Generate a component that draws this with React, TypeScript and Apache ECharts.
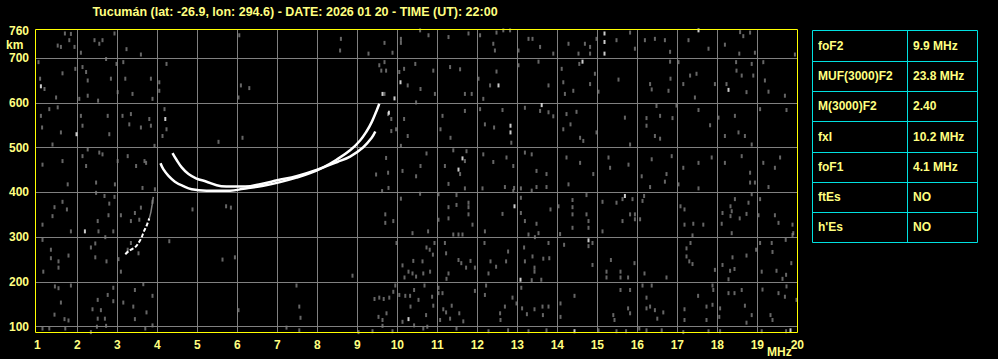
import React, { useEffect, useRef } from "react";
import * as echarts from "echarts";

const TITLE = "Tucumán (lat: -26.9, lon: 294.6) - DATE: 2026 01 20 - TIME (UT): 22:00";
const xTickLabels = [1, 2, 3, 4, 5, 6, 7, 8, 9, 10, 11, 12, 13, 14, 15, 16, 17, 18, 19, 20];
const xGridValues = [2, 3, 4, 5, 6, 7, 8, 9, 10, 11, 12, 13, 14, 15, 16, 17, 18, 19];
const yTickLabels = [100, 200, 300, 400, 500, 600, 700, 760];
const yGridValues = [100, 200, 300, 400, 500, 600, 700];

const tableLabels = ["foF2", "MUF(3000)F2", "M(3000)F2", "fxI", "foF1", "ftEs", "h'Es"];
const tableValues = ["9.9 MHz", "23.8 MHz", "2.40", "10.2 MHz", "4.1 MHz", "NO", "NO"];

// O-mode trace (MHz, km)
const traceO = [
  [4.08, 465], [4.15, 452], [4.28, 437], [4.44, 424], [4.65, 414], [4.86, 407], [5.23, 404],
  [5.82, 404], [6.15, 408], [6.65, 415], [7.07, 423], [7.48, 433], [7.82, 443], [8.15, 456],
  [8.48, 473], [8.82, 494], [9.07, 516], [9.23, 536], [9.36, 557], [9.48, 582], [9.55, 598],
];
// X-mode trace
const traceX = [
  [4.38, 488], [4.48, 473], [4.61, 456], [4.78, 441], [4.98, 431], [5.2, 425], [5.6, 414],
  [6.2, 413], [6.6, 419], [7.0, 427], [7.5, 437], [8.0, 451], [8.5, 468], [8.82, 480],
  [9.15, 501], [9.36, 522], [9.45, 536],
];
// F1 / lower trace
const traceF1 = [
  [3.2, 262], [3.3, 270], [3.44, 277], [3.53, 287], [3.61, 300], [3.67, 314], [3.73, 325], [3.8, 342],
];
const traceF1Faint = [[3.8, 342], [3.84, 356], [3.87, 372], [3.9, 390]];

const whiteDots = [
  [1.09, 637], [1.98, 530], [4.2, 564], [15.18, 755], [15.18, 736], [15.18, 710], [17.53, 762],
  [12.53, 639], [14.63, 692], [18.28, 629], [12.83, 549], [12.83, 534], [13.61, 595], [11.63, 476],
  [11.53, 451], [2.19, 313], [10.28, 117], [12.93, 369], [15.69, 392], [14.78, 293], [13.08, 205],
  [14.43, 90], [19.83, 92], [9.63, 620], [9.79, 578], [9.93, 610], [10.08, 646],
];

const grayDots = [
  [1.69, 755], [1.8, 740], [1.84, 754], [1.51, 728], [1.59, 725], [1.93, 725], [2.09, 712], [1.03, 691],
  [1.07, 654], [1.18, 631], [1.47, 612], [1.63, 666], [1.95, 676], [2.13, 680], [2.22, 669], [2.26, 650],
  [2.43, 740], [2.55, 732], [2.63, 740], [2.72, 698], [2.84, 654], [2.93, 755], [2.98, 687], [3.01, 624],
  [3.15, 691], [3.2, 654], [3.23, 720], [3.38, 620], [3.59, 708], [3.84, 654], [3.88, 609], [4.05, 646],
  [4.05, 627], [4.23, 687], [2.26, 616], [2.52, 605], [2.05, 609], [6.05, 751], [6.03, 612], [6.09, 639],
  [6.3, 633], [8.59, 743], [8.57, 717], [9.28, 710], [9.68, 734], [9.88, 712], [10.09, 743], [10.09, 734],
  [9.55, 684], [9.68, 691], [9.6, 672], [9.72, 672], [10.17, 676], [10.26, 639], [10.45, 687], [10.05, 669],
  [1.09, 571], [1.12, 545], [1.3, 586], [1.51, 590], [1.59, 534], [1.38, 507], [2.09, 571], [2.13, 549],
  [2.26, 496], [2.55, 489], [2.76, 571], [2.8, 530], [3.13, 571], [3.3, 552], [3.34, 575], [3.59, 545],
  [3.72, 466], [3.8, 564], [3.84, 549], [1.13, 462], [1.63, 470], [2.13, 481], [2.22, 459], [2.63, 485],
  [3.01, 470], [3.26, 481], [3.47, 459], [3.68, 470], [3.93, 504], [4.18, 586], [4.23, 541], [4.13, 526],
  [5.53, 513], [6.13, 522], [9.68, 620], [9.77, 575], [9.85, 564], [9.97, 541], [9.85, 537], [10.17, 564],
  [10.26, 526], [10.47, 601], [10.09, 504], [9.72, 477], [9.77, 444], [10.13, 448], [9.47, 440], [10.47, 436],
  [10.78, 751], [10.57, 762], [11.28, 747], [11.78, 755], [12.07, 751], [12.48, 757], [12.65, 762], [12.82, 762],
  [12.4, 732], [12.44, 717], [13.03, 717], [13.28, 743], [13.38, 743], [13.57, 725], [13.9, 710], [14.28, 732],
  [14.53, 710], [14.69, 732], [14.82, 725], [14.82, 710], [14.98, 743], [15.48, 740], [15.82, 757], [15.94, 721],
  [16.19, 740], [16.44, 743], [16.69, 740], [16.82, 714], [17.28, 740], [17.78, 721], [18.19, 730], [18.57, 758],
  [18.65, 749], [18.82, 757], [18.55, 710], [18.94, 712], [19.94, 708],
  [10.9, 672], [11.32, 680], [11.57, 675], [10.58, 631], [10.94, 620], [11.69, 620], [11.86, 620], [12.03, 654],
  [12.48, 670], [12.32, 639], [12.15, 609], [13.03, 684], [13.53, 692], [13.78, 639], [14.11, 676], [14.15, 646],
  [14.19, 620], [14.55, 687], [14.4, 627], [14.82, 642], [14.94, 665], [15.03, 625], [15.53, 652], [16.32, 642],
  [16.36, 630], [16.78, 627], [16.83, 654], [16.82, 692], [17.03, 691], [17.15, 642], [17.32, 661], [17.48, 665],
  [17.44, 612], [17.94, 642], [18.23, 642], [18.48, 672], [18.61, 661], [18.73, 624], [18.9, 661], [18.86, 687],
  [19.15, 691], [19.19, 650], [19.28, 625], [19.69, 616], [18.47, 691],
  [11.13, 571], [11.08, 541], [11.33, 522], [11.69, 582], [12.07, 586], [12.19, 552], [12.42, 545], [12.63, 584],
  [12.85, 511], [13.19, 589], [13.57, 582], [13.78, 579], [13.9, 570], [14.23, 575], [14.33, 552], [14.48, 580],
  [14.15, 541], [14.57, 522], [14.65, 515], [14.98, 534], [15.69, 567], [15.82, 507], [16.23, 566], [16.23, 549],
  [16.44, 526], [16.57, 520], [16.48, 593], [16.57, 571], [16.88, 566], [16.98, 594], [17.53, 584], [17.82, 550],
  [18.03, 567], [18.19, 526], [18.44, 571], [18.53, 534], [18.69, 526], [18.86, 507], [19.07, 586], [19.73, 584],
  [10.73, 487], [10.58, 459], [11.19, 459], [11.4, 494], [11.69, 470], [11.73, 492], [11.57, 441], [12.15, 485],
  [12.4, 468], [12.73, 478], [12.9, 459], [13.36, 485], [13.19, 489], [13.48, 448], [13.73, 441], [14.23, 478],
  [14.57, 466], [14.9, 441], [15.28, 478], [15.32, 455], [15.78, 462], [16.11, 436], [16.36, 474], [16.73, 441],
  [16.86, 481], [17.15, 455], [17.53, 466], [17.86, 478], [18.19, 466], [18.61, 481], [18.82, 444], [19.15, 466],
  [19.57, 478], [19.44, 455],
  [1.76, 418], [2.47, 422], [2.94, 418], [3.63, 410], [3.94, 407], [2.47, 399], [2.68, 392], [2.93, 390],
  [1.63, 379], [1.74, 362], [1.43, 367], [1.38, 347], [1.13, 328], [1.84, 313], [2.51, 336], [2.53, 313],
  [2.7, 300], [2.8, 375], [2.78, 349], [2.9, 313], [3.09, 349], [3.34, 336], [3.44, 354], [3.55, 339],
  [3.59, 366], [3.88, 379], [4.3, 291], [4.88, 362], [5.72, 369], [5.84, 366], [3.34, 287], [3.26, 272],
  [3.53, 264], [1.13, 294], [1.34, 272], [1.34, 253], [1.53, 246], [1.53, 232], [1.78, 259], [2.34, 277],
  [2.45, 286], [2.45, 255], [2.73, 246], [3.03, 251], [3.09, 223], [1.15, 223], [5.63, 250], [5.94, 255],
  [9.7, 351], [9.7, 332], [9.9, 336], [9.78, 410], [9.62, 403], [10.09, 386], [10.38, 309], [9.98, 287],
  [10.13, 237], [10.4, 247], [10.28, 223], [10.38, 219], [10.18, 210], [10.47, 212], [8.88, 214],
  [1.44, 190], [1.53, 186], [1.84, 192], [1.59, 154], [1.43, 127], [1.68, 117], [1.78, 114], [1.13, 96],
  [1.3, 96], [1.7, 96], [2.38, 139], [2.51, 160], [2.59, 137], [2.51, 118], [2.69, 118], [2.49, 100],
  [2.72, 102], [2.76, 171], [2.9, 187], [2.9, 157], [3.15, 154], [3.4, 145], [3.44, 117], [3.44, 182],
  [3.65, 195], [3.73, 132], [3.88, 169], [3.88, 103], [3.7, 96], [2.34, 88], [6.03, 137], [7.23, 98],
  [7.48, 192], [7.55, 145], [7.58, 120], [7.55, 92], [9.43, 162], [9.55, 165], [9.66, 162], [9.8, 165],
  [9.9, 178], [9.95, 192], [10.05, 171], [10.2, 169], [10.32, 169], [10.33, 145], [10.42, 182], [9.53, 122],
  [9.63, 115], [9.63, 102], [9.73, 130], [10.13, 111], [10.42, 103], [9.03, 88], [9.38, 90], [9.88, 90],
  [10.57, 397], [11.03, 396], [11.28, 419], [11.69, 409], [12.13, 409], [12.69, 412], [12.92, 410], [13.09, 409],
  [13.48, 412], [13.73, 412], [14.28, 418], [13.36, 404], [12.9, 403], [18.82, 422], [18.94, 422], [19.28, 412],
  [18.86, 396], [17.03, 418], [17.53, 409], [16.69, 424], [16.32, 412],
  [11.48, 394], [11.28, 367], [11.48, 372], [11.78, 377], [11.78, 367], [11.78, 351], [11.03, 339], [11.28, 342],
  [10.77, 313], [11.4, 306], [11.53, 306], [11.63, 306], [11.88, 328], [12.19, 313], [12.63, 352], [13.09, 388],
  [13.09, 354], [13.19, 336], [13.48, 330], [13.53, 309], [13.28, 306], [13.44, 300], [13.83, 362], [14.03, 369],
  [14.07, 307], [14.38, 383], [14.38, 367], [14.38, 351], [14.38, 321], [14.73, 394], [14.73, 351], [14.78, 336],
  [14.78, 321], [15.13, 379], [15.13, 313], [15.48, 377], [15.63, 385], [15.63, 336], [15.82, 351], [15.88, 385],
  [15.94, 351], [15.94, 340], [16.07, 340], [16.17, 392], [16.13, 381], [17.08, 369], [17.18, 362], [17.18, 328],
  [17.4, 330], [17.65, 328], [17.38, 304], [18.11, 330], [18.13, 354], [18.33, 369], [18.36, 358], [18.33, 347],
  [18.44, 385], [18.56, 342], [18.73, 352], [18.36, 309], [18.78, 377], [19.03, 349], [19.07, 385], [19.44, 349],
  [19.53, 332], [19.9, 309], [19.88, 328],
  [14.78, 280], [14.88, 287], [13.78, 287], [13.8, 253], [11.19, 287], [11.22, 264], [10.93, 287], [10.73, 277],
  [10.81, 272], [10.89, 261], [10.63, 246], [11.53, 249], [11.6, 242], [11.72, 232], [11.83, 247], [11.94, 232],
  [12.18, 287], [12.33, 246], [12.47, 234], [12.72, 246], [12.77, 268], [12.28, 219], [11.28, 219], [11.23, 207],
  [10.65, 219], [10.82, 223], [13.19, 246], [13.38, 257], [13.43, 232], [13.43, 223], [13.17, 277], [13.36, 204],
  [13.6, 205], [13.65, 252], [14.17, 283], [14.88, 238], [15.34, 249], [15.23, 223], [15.23, 210], [15.58, 223],
  [15.58, 210], [15.77, 210], [15.93, 242], [16.18, 219], [16.73, 210], [17.23, 275], [17.23, 257], [17.3, 246],
  [17.38, 240], [17.33, 287], [17.94, 227], [18.13, 238], [18.32, 225], [18.43, 229], [18.28, 206], [18.38, 255],
  [18.73, 259], [19.07, 287], [18.97, 272], [19.11, 223], [19.36, 287], [19.48, 225], [19.63, 207], [19.72, 216],
  [19.38, 267], [19.71, 294], [19.85, 242], [19.88, 305],
  [10.68, 192], [10.87, 167], [10.9, 147], [11.03, 187], [11.03, 175], [11.13, 175], [10.53, 160], [10.72, 126],
  [10.75, 100], [11.15, 139], [11.22, 132], [11.32, 118], [11.36, 147], [11.55, 130], [11.65, 112], [11.07, 115],
  [11.94, 180], [12.19, 171], [12.22, 192], [12.69, 145], [12.57, 130], [12.58, 115], [12.88, 165], [12.98, 152],
  [13.1, 187], [13.12, 141], [13.24, 128], [13.43, 139], [13.63, 145], [13.78, 145], [13.64, 126], [14.08, 152],
  [14.08, 122], [14.43, 169], [15.4, 126], [15.43, 115], [15.58, 182], [15.82, 182], [15.77, 141], [15.82, 130],
  [16.13, 192], [16.23, 165], [16.23, 141], [16.36, 192], [16.32, 145], [16.44, 137], [16.5, 118], [16.65, 132],
  [17.18, 139], [17.18, 115], [17.52, 169], [17.73, 145], [17.73, 115], [17.88, 192], [17.9, 182], [17.88, 149],
  [18.07, 141], [18.05, 122], [18.28, 175], [18.43, 175], [18.61, 182], [18.69, 147], [18.86, 126], [18.73, 109],
  [19.13, 183], [19.33, 126], [19.38, 115], [19.53, 175], [19.69, 167], [19.73, 190], [19.98, 160],
  [10.65, 96], [11.48, 96], [12.28, 90], [12.77, 92], [13.28, 90], [13.73, 92], [15.03, 92], [15.48, 90],
  [15.72, 90], [16.05, 96], [16.23, 92], [16.61, 92], [17.15, 88], [17.78, 90], [18.07, 90], [19.11, 90],
  [19.72, 90],
];

const YELLOW = "#ffff00";
const TEXT = "#ffff80";
const CYAN = "#00e0e0";
const GRAY = "#808080";
const FONT = "'Liberation Sans', Arial, sans-serif";

export default function App() {
  const ref = useRef<HTMLDivElement>(null);
  useEffect(() => {
    document.body.style.margin = "0";
    document.body.style.background = "#000";
    const chart = echarts.init(ref.current!, undefined, { renderer: "svg" });

    const tLeft = 812.5, tMid = 907.5, tRight = 977.5, tTop = 30.5, rowH = 30.3;
    const tableGraphics: any[] = [];
    tableGraphics.push({
      type: "rect",
      shape: { x: tLeft, y: tTop, width: tRight - tLeft, height: Math.round(rowH * tableLabels.length) },
      style: { fill: "none", stroke: CYAN, lineWidth: 1 },
    });
    tableGraphics.push({
      type: "line",
      shape: { x1: tMid, y1: tTop, x2: tMid, y2: tTop + Math.round(rowH * tableLabels.length) },
      style: { stroke: CYAN, lineWidth: 1 },
    });
    tableLabels.forEach((lab, i) => {
      const yc = tTop + rowH * (i + 0.5);
      if (i > 0) {
        const yl = Math.round(tTop + rowH * i) + 0.5;
        tableGraphics.push({
          type: "line",
          shape: { x1: tLeft, y1: yl, x2: tRight, y2: yl },
          style: { stroke: CYAN, lineWidth: 1 },
        });
      }
      tableGraphics.push({
        type: "text",
        x: 818,
        y: yc,
        style: { text: lab, fill: TEXT, font: `bold 12px ${FONT}`, verticalAlign: "middle", align: "left" },
      });
      tableGraphics.push({
        type: "text",
        x: 913,
        y: yc,
        style: { text: tableValues[i], fill: TEXT, font: `bold 12px ${FONT}`, verticalAlign: "middle", align: "left" },
      });
    });

    const option: any = {
      animation: false,
      backgroundColor: "#000",
      title: {
        text: TITLE,
        left: 290,
        textAlign: "center",
        top: 0,
        textStyle: { color: TEXT, fontSize: 12.5, fontWeight: "bold", fontFamily: FONT },
      },
      grid: {
        left: 35,
        top: 29,
        width: 763,
        height: 304,
        show: false,
      },
      xAxis: {
        type: "value",
        min: 0.9425,
        max: 20.0175,
        axisLine: { show: false },
        axisTick: { show: false, customValues: xGridValues },
        splitLine: { show: true, lineStyle: { color: GRAY, width: 1 } },
        axisLabel: {
          customValues: xTickLabels,
          color: TEXT,
          fontSize: 12,
          fontWeight: "bold",
          fontFamily: FONT,
          margin: 6,
          showMinLabel: true,
          showMaxLabel: true,
        },
      },
      yAxis: {
        type: "value",
        min: 86,
        max: 765,
        axisLine: { show: false },
        axisTick: { show: false, customValues: yGridValues },
        splitLine: { show: true, lineStyle: { color: GRAY, width: 1 } },
        axisLabel: {
          customValues: yTickLabels,
          color: TEXT,
          fontSize: 12,
          fontWeight: "bold",
          fontFamily: FONT,
          margin: 6,
          showMinLabel: true,
          showMaxLabel: true,
        },
      },
      graphic: [
        {
          type: "rect",
          z: 100,
          silent: true,
          shape: { x: 35.5, y: 29.5, width: 762, height: 303 },
          style: { fill: "none", stroke: YELLOW, lineWidth: 1 },
        },
        {
          type: "text",
          x: 6,
          y: 45,
          style: { text: "km", fill: TEXT, font: `bold 12px ${FONT}`, verticalAlign: "middle" },
        },
        {
          type: "text",
          x: 767,
          y: 352,
          style: { text: "MHz", fill: TEXT, font: `bold 12px ${FONT}`, verticalAlign: "middle" },
        },
        ...tableGraphics,
      ],
      series: [
        {
          type: "scatter",
          data: grayDots,
          symbol: "rect",
          symbolSize: [2, 4],
          itemStyle: { color: GRAY },
          clip: true,
          silent: true,
        },
        {
          type: "line",
          data: traceF1Faint,
          showSymbol: false,
          lineStyle: { color: GRAY, width: 1.5 },
          clip: true,
        },
        {
          type: "line",
          data: traceF1,
          showSymbol: false,
          smooth: 0.3,
          lineStyle: { color: "#ffffff", width: 2, type: [4, 2] },
          clip: true,
        },
        {
          type: "line",
          data: traceX,
          showSymbol: false,
          smooth: 0.4,
          lineStyle: { color: "#ffffff", width: 2.5 },
          clip: true,
        },
        {
          type: "line",
          data: traceO,
          showSymbol: false,
          smooth: 0.4,
          lineStyle: { color: "#ffffff", width: 2.5 },
          clip: true,
        },
        {
          type: "scatter",
          data: whiteDots,
          symbol: "rect",
          symbolSize: [2, 4],
          itemStyle: { color: "#ffffff" },
          clip: true,
          silent: true,
        },
      ],
    };
    chart.setOption(option);
    return () => chart.dispose();
  }, []);
  return <div ref={ref} style={{ width: 998, height: 359, background: "#000" }} />;
}
